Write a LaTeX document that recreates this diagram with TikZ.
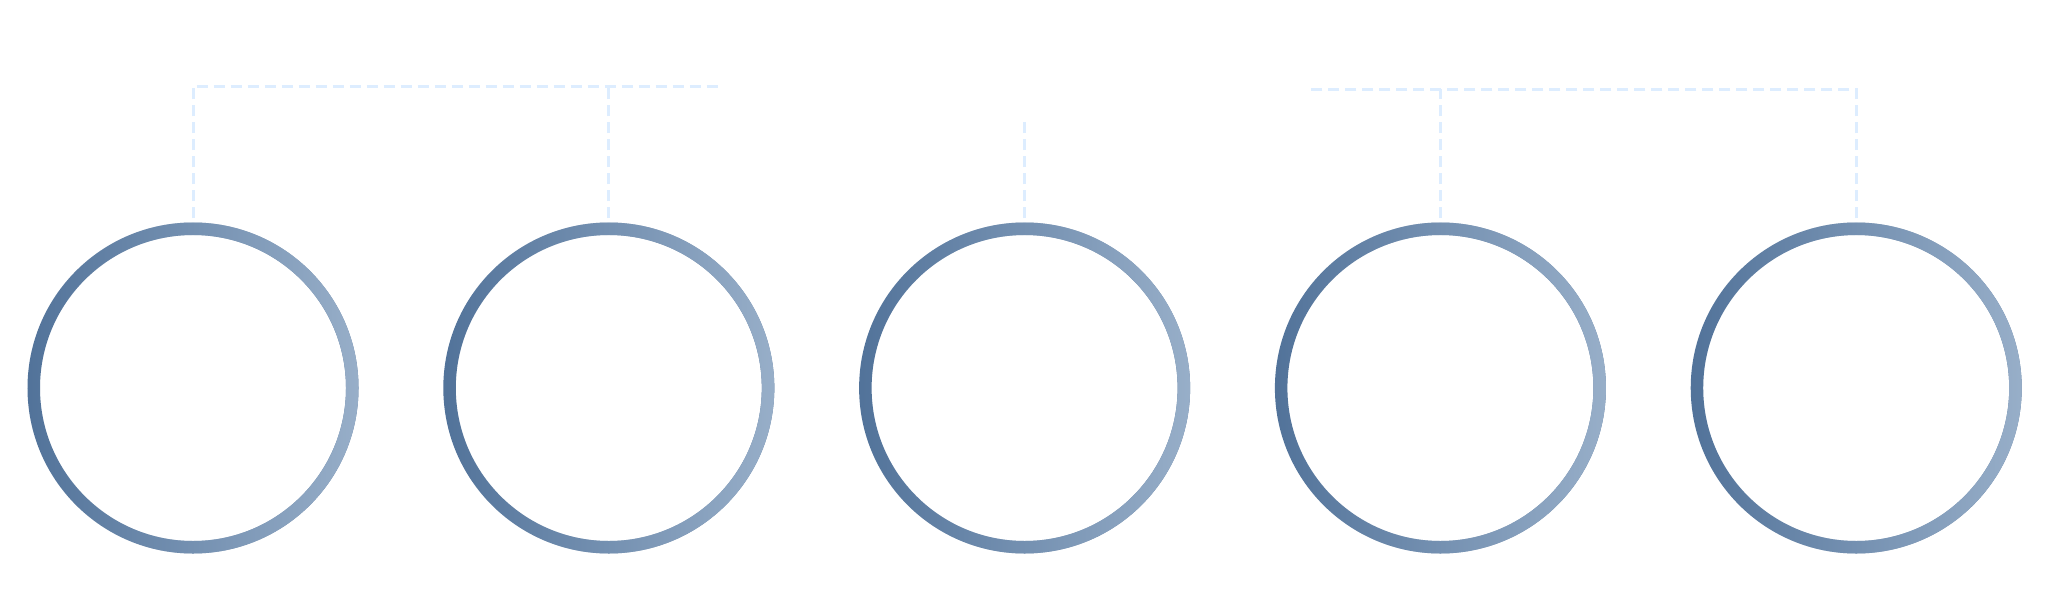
\documentclass[tikz,border=0pt]{standalone}
\usepackage{tikz}
\usetikzlibrary{positioning,calc,fadings}
\definecolor{ringdark}{HTML}{52739A}
\definecolor{ringlight}{HTML}{98AFC9}
\definecolor{linkblue}{HTML}{DDEDFF}

\begin{document}
\begin{tikzpicture}[x=0.5pt, y=-0.5pt]
    \tikzset{hub/.style={circle, minimum size=165.5pt, inner sep=0pt},
             rim/.style={line width=6.25pt},
             link/.style={linkblue, line width=1.5pt, dash pattern=on 5.5pt off 3pt, shorten <=2pt}}
    \useasboundingbox[fill=white] (0, 0) rectangle (2048, 594);
    % CIRCLES
    \node[hub] (c1) at (193, 388) {};
    \node[hub, right=42pt of c1] (c2) {};
    \node[hub, right=42pt of c2] (c3) {};
    \node[hub, right=42pt of c3] (c4) {};
    \node[hub, right=42pt of c4] (c5) {};
    \foreach \i in {1,...,5}{
        \draw[rim, ringdark] (c\i) circle (159.25);
        \draw[rim, ringlight, path fading=west] (c\i) circle (159.25);
    }
    % LEFT BRACKET
    \coordinate (e1) at (723, 86);
    \draw[link] (c1.north) |- (e1);
    \draw[link] (c2.north) -- (c2.north |- e1);
    % MIDDLE STUB
    \coordinate (e3) at (1025, 117);
    \draw[link] (c3.north) -- (c3.north |- e3);
    % RIGHT BRACKET
    \coordinate (e2) at (1308, 89);
    \draw[link] (c5.north) |- (e2);
    \draw[link] (c4.north) -- (c4.north |- e2);
\end{tikzpicture}
\end{document}
